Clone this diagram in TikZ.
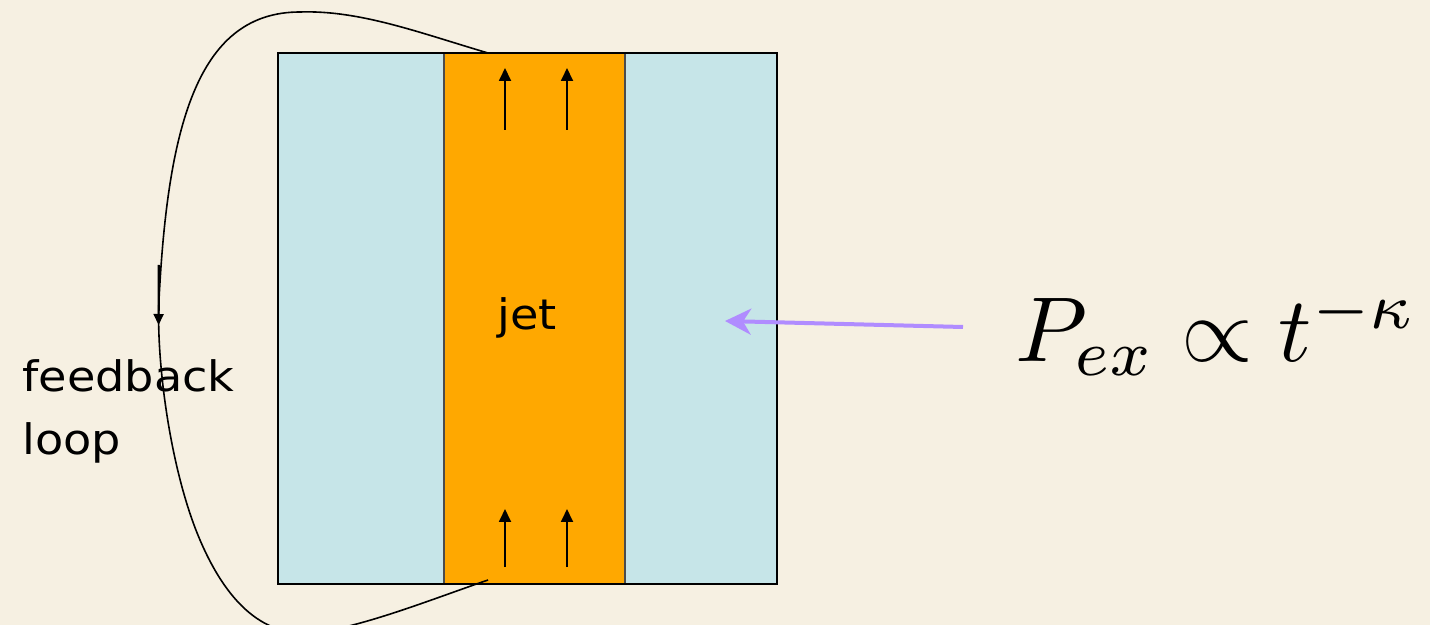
\documentclass[tikz,border=0pt]{standalone}
\usepackage{fontspec}
\newfontfamily\comic{DejaVu Sans}
\usetikzlibrary{arrows.meta}
\definecolor{bg}{HTML}{F6F0E2}
\definecolor{lblue}{HTML}{C6E5E8}
\definecolor{jetor}{HTML}{FFA800}
\definecolor{purp}{HTML}{B08CFF}
\tikzset{
  panel/.style={draw=black, line width=1pt},
  flow/.style={-{Triangle[length=6.5pt,width=6pt]}, line width=0.9pt},
  lbl/.style={font=\comic\fontsize{21}{26}\selectfont, inner sep=0pt, xscale=1.1},
}
\begin{document}
\begin{tikzpicture}[x=0.5pt,y=-0.5pt]
\fill[bg] (0,0) rectangle (1430,625);
\useasboundingbox (0,0) rectangle (1430,625);
% panels
\fill[lblue] (278,53) rectangle (444,584);
\fill[jetor] (444,53) rectangle (625,584);
\fill[lblue] (625,53) rectangle (777,584);
\draw[line width=0.7pt, black!70] (444,53) -- (444,584);
\draw[line width=0.7pt, black!70] (625,53) -- (625,584);
\draw[panel] (278,53) rectangle (777,584);
% jet arrows
\coordinate (t1s) at (505,130); \coordinate (t1e) at (505,68);
\coordinate (t2s) at (567,130); \coordinate (t2e) at (567,68);
\coordinate (b1s) at (505,567); \coordinate (b1e) at (505,509);
\coordinate (b2s) at (567,567); \coordinate (b2e) at (567,509);
\draw[flow] (t1s) -- (t1e);
\draw[flow] (t2s) -- (t2e);
\draw[flow] (b1s) -- (b1e);
\draw[flow] (b2s) -- (b2e);
\node[lbl, anchor=base] (jet) at (527,330) {jet};
% feedback loop
\coordinate (ls) at (488,53);
\coordinate (le) at (488,580);
\draw[line width=0.8pt] (ls)
  .. controls (420,33) and (360,10) .. (300,12)
  .. controls (200,12) and (168,120) .. (159,300)
  .. controls (156,360) and (170,470) .. (200,540)
  .. controls (230,610) and (270,640) .. (320,632)
  .. controls (370,624) and (430,600) .. (le);
\coordinate (fa) at (158.8,265); \coordinate (fb) at (158.6,325);
\draw[-{Triangle[length=5.5pt,width=5pt]}, line width=1.1pt] (fa) -- (fb);
\node[lbl, anchor=base west] (fb1) at (22,392) {feedback};
\node[lbl, anchor=base west] (fb2) at (22,455) {loop};
% formula
\node[inner sep=0pt, anchor=base west] (pex) at (1015,362) {\resizebox{201pt}{!}{$P_{ex}\propto t^{-\kappa}$}};
\coordinate (pa) at (963,327);
\coordinate (pb) at (725,321);
\draw[purp, line width=2pt, -{Stealth[length=13pt,width=13pt,inset=4pt]}] (pa) -- (pb);
\end{tikzpicture}
\end{document}
